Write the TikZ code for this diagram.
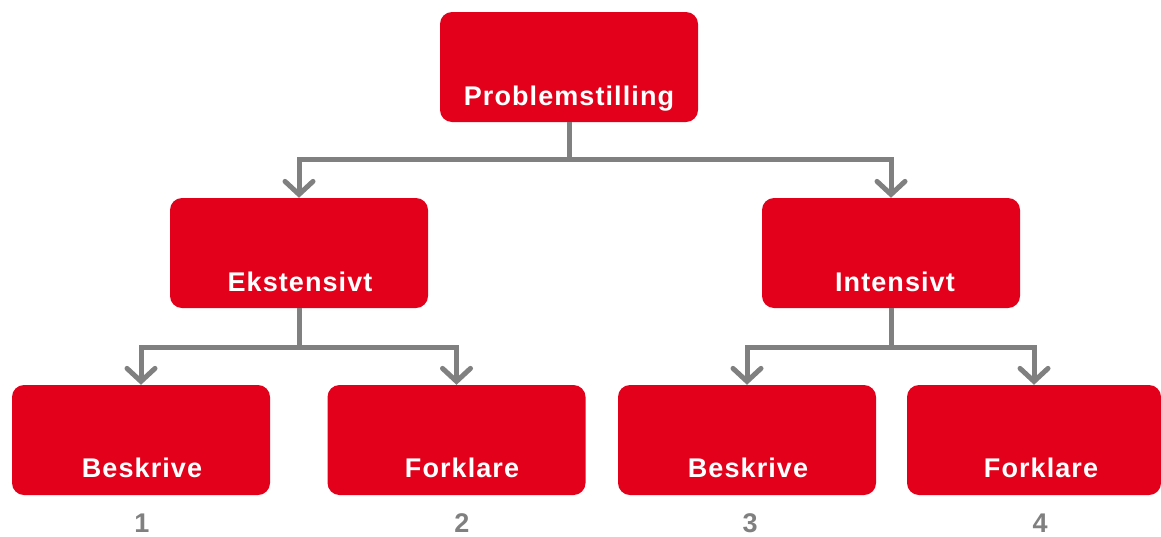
\documentclass[tikz,border=0pt]{standalone}
\usepackage{fontspec}
\setmainfont{Liberation Sans}
\newfontfamily\labelfont{Liberation Sans}[LetterSpace=4]
\usetikzlibrary{arrows.meta}
\definecolor{boxred}{RGB}{227,0,27}
\definecolor{linegray}{RGB}{128,128,128}
\begin{document}
\begin{tikzpicture}[x=1pt,y=-1pt,
  box/.style={fill=boxred, rounded corners=12pt, minimum width=258pt,
    minimum height=110pt, inner sep=0pt},
  boxtext/.style={text=white, anchor=base, inner sep=0pt,
    font=\labelfont\bfseries\fontsize{27}{30}\selectfont},
  num/.style={text=linegray, anchor=base, inner sep=0pt,
    font=\labelfont\bfseries\fontsize{27}{30}\selectfont},
  stem/.style={draw=linegray, line width=5pt},
  branch/.style={draw=linegray, line width=5pt, line join=miter,
    -{Straight Barb[length=13pt,width=28pt,line cap=round]}}]
\useasboundingbox (0,0) rectangle (1161,536);

% boxes
\node[box] (top)  at (569,67)  {};
\node[box] (ekst) at (299,253) {};
\node[box] (int)  at (891,253) {};
\node[box] (b1)   at (141,440) {};
\node[box] (b2)   at (456.5,440) {};
\node[box] (b3)   at (747,440) {};
\node[box, minimum width=254pt] (b4) at (1034,440) {};

% box texts
\node[boxtext] (ttop)  at (569,105) {Problemstilling};
\node[boxtext] (tekst) at (300,291) {Ekstensivt};
\node[boxtext] (tint)  at (895,291) {Intensivt};
\node[boxtext] (tb1)   at (142,477) {Beskrive};
\node[boxtext] (tb2)   at (462,477) {Forklare};
\node[boxtext] (tb3)   at (748,477) {Beskrive};
\node[boxtext] (tb4)   at (1041,477) {Forklare};

% numbers
\node[num] (n1) at (142,532) {1};
\node[num] (n2) at (462,532) {2};
\node[num] (n3) at (750,532) {3};
\node[num] (n4) at (1040,532) {4};

% connectors
\coordinate (j0) at (569,159);
\coordinate (j1) at (299,347);
\coordinate (j2) at (891,347);
\draw[stem] (top.south) -- (j0);
\draw[branch] (j0) -| (ekst.north);
\draw[branch] (j0) -| (int.north);
\draw[stem] (ekst.south) -- (j1);
\draw[branch] (j1) -| (b1.north);
\draw[branch] (j1) -| (b2.north);
\draw[stem] (int.south) -- (j2);
\draw[branch] (j2) -| (b3.north);
\draw[branch] (j2) -| (b4.north);
\end{tikzpicture}
\end{document}
